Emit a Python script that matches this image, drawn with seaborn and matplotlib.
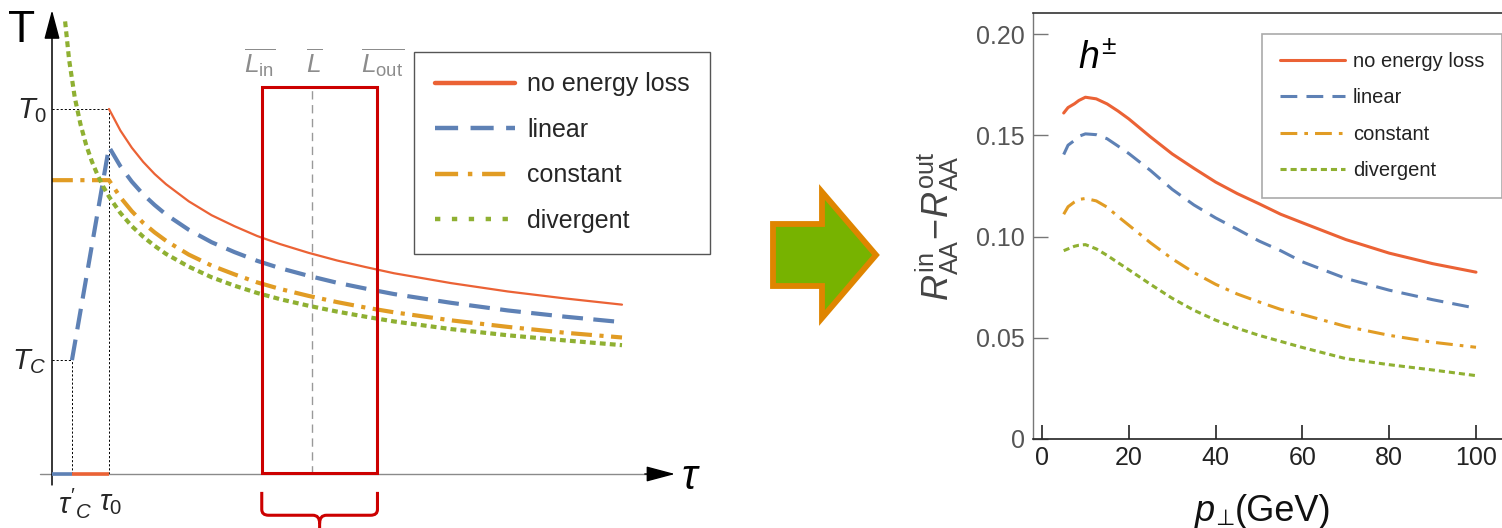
import numpy as np
import pandas as pd
import seaborn as sns
import matplotlib
matplotlib.use("Agg")
import matplotlib.pyplot as plt
from matplotlib.lines import Line2D
from matplotlib.patches import Rectangle, Polygon, PathPatch
from matplotlib.path import Path

# ---------------- data ----------------
series_names = ["no energy loss", "linear", "constant", "divergent"]

# left panel: schematic temperature profiles T(tau) (units: tau0 = 1, T0 = 1)
tau_decay = [1.0, 1.2, 1.4, 1.6, 1.8, 2.0, 2.4, 2.8, 3.2, 3.6, 4.0, 4.5, 5.0, 5.5, 6.0, 7.0, 8.0, 9.0, 10.0]
T_noloss = [1.000, 0.941, 0.894, 0.855, 0.822, 0.794, 0.747, 0.709, 0.679, 0.652,
            0.630, 0.606, 0.585, 0.567, 0.550, 0.523, 0.500, 0.481, 0.464]
tau_linear = [0.35] + tau_decay
T_linear = [0.312, 0.896, 0.843, 0.801, 0.766, 0.737, 0.711, 0.669, 0.635, 0.608, 0.584,
            0.564, 0.543, 0.524, 0.508, 0.493, 0.469, 0.448, 0.431, 0.416]
tau_const = [0.0] + tau_decay
T_const = [0.805, 0.805, 0.758, 0.720, 0.688, 0.662, 0.639, 0.601, 0.571, 0.547, 0.525,
           0.507, 0.488, 0.471, 0.456, 0.443, 0.421, 0.403, 0.387, 0.374]
tau_div = [0.23, 0.3, 0.4, 0.5, 0.6, 0.7, 0.8, 0.9] + tau_decay
T_div = [1.240, 1.135, 1.031, 0.958, 0.901, 0.856, 0.819, 0.787,
         0.760, 0.715, 0.679, 0.650, 0.625, 0.603, 0.568, 0.539, 0.516, 0.496,
         0.479, 0.461, 0.445, 0.431, 0.418, 0.397, 0.380, 0.366, 0.353]

tau_C_prime, tau_0 = 0.35, 1.0
T_0, T_C = 1.0, 0.312
L_in, L_mean, L_out = 3.68, 4.56, 5.71
box_top = 1.06

# right panel: R_AA^in - R_AA^out vs p_perp
pt = [5, 6, 7.5, 8.5, 10, 12.5, 15, 17.5, 20, 25, 30, 35, 40, 45, 50, 55, 60, 70, 80, 90, 100]
r_noloss = [0.1610, 0.1637, 0.1656, 0.1672, 0.1688, 0.1680, 0.1655, 0.1620, 0.1581, 0.1492,
            0.1408, 0.1337, 0.1269, 0.1212, 0.1162, 0.1110, 0.1068, 0.0985, 0.0918, 0.0866, 0.0824]
r_linear = [0.1405, 0.1451, 0.1475, 0.1495, 0.1507, 0.1503, 0.1483, 0.1447, 0.1410, 0.1326,
            0.1233, 0.1156, 0.1092, 0.1036, 0.0978, 0.0930, 0.0875, 0.0793, 0.0735, 0.0688, 0.0646]
r_const = [0.1110, 0.1147, 0.1171, 0.1183, 0.1188, 0.1176, 0.1145, 0.1099, 0.1056, 0.0969,
           0.0890, 0.0822, 0.0764, 0.0716, 0.0677, 0.0640, 0.0615, 0.0556, 0.0512, 0.0478, 0.0453]
r_div = [0.0930, 0.0939, 0.0952, 0.0957, 0.0960, 0.0939, 0.0907, 0.0871, 0.0836, 0.0764,
         0.0695, 0.0636, 0.0587, 0.0547, 0.0512, 0.0482, 0.0452, 0.0397, 0.0367, 0.0341, 0.0313]

x_ticks = [0, 20, 40, 60, 80, 100]
y_ticks = [0, 0.05, 0.10, 0.15, 0.20]
y_tick_labels = ["0", "0.05", "0.10", "0.15", "0.20"]

# ---------------- style ----------------
sns.set_theme(style="white")
plt.rcParams["font.family"] = ["Liberation Sans", "DejaVu Sans"]
plt.rcParams["mathtext.fontset"] = "custom"
plt.rcParams["mathtext.rm"] = "Liberation Sans"
plt.rcParams["mathtext.it"] = "Liberation Sans:italic"
plt.rcParams["mathtext.bf"] = "Liberation Sans:bold"

C_RED = "#EB6235"
C_BLUE = "#5E81B5"
C_ORANGE = "#E19C24"
C_GREEN = "#8FB032"
colors = [C_RED, C_BLUE, C_ORANGE, C_GREEN]

W, H = 1502, 528
fig = plt.figure(figsize=(W / 100, H / 100), dpi=100)
fig.patch.set_facecolor("white")

# ---------------- left schematic ----------------
axL = fig.add_axes([0, 0, 740 / W, 1])
axL.set_xlim(-52 / 57, (740 - 52) / 57)
axL.set_ylim(-(528 - 474) / 365, 474 / 365)
axL.axis("off")

left_dashes = [None, (5, 2.5), (5, 1.8, 1, 1.8), (1.4, 1.0)]
left_lw = [1.6, 3.0, 3.0, 3.0]
left_data = [(tau_decay, T_noloss), (tau_linear, T_linear), (tau_const, T_const), (tau_div, T_div)]
for (tx, ty), c, d, lw in zip(left_data, colors, left_dashes, left_lw):
    sns.lineplot(x=tx, y=ty, ax=axL, color=c, lw=lw, estimator=None, sort=False, legend=False)
    ln = axL.lines[-1]
    if d is not None:
        ln.set_dashes(d)
    ln.set_dash_capstyle("butt")

# coloured segments on the tau axis
axL.plot([0, tau_C_prime], [0, 0], color=C_BLUE, lw=2.6, zorder=4, solid_capstyle="butt")
axL.plot([tau_C_prime, tau_0], [0, 0], color=C_RED, lw=2.6, zorder=4, solid_capstyle="butt")

# helper dashed lines
hk = dict(color="black", lw=0.7, dashes=(2.2, 2.0), zorder=1)
axL.plot([0, tau_0], [T_0, T_0], **hk)
axL.plot([tau_0, tau_0], [0, T_0], **hk)
axL.plot([0, tau_C_prime], [T_C, T_C], **hk)
axL.plot([tau_C_prime, tau_C_prime], [0, T_C], **hk)

# path-length markers
for xv in [L_in, L_mean, L_out]:
    axL.plot([xv, xv], [0, box_top], color="#999999", lw=1.0, dashes=(6, 4), zorder=1)
axL.add_patch(Rectangle((L_in, 0.004), L_out - L_in, box_top - 0.004, fill=False,
                        edgecolor="#CC0000", lw=2.2, zorder=5))
axL.text(L_in - 0.03, 1.126, r"$\overline{L_{\rm in}}$", color="#8c8c8c", fontsize=19, ha="center", va="center")
axL.text(L_mean + 0.05, 1.126, r"$\overline{L}$", color="#8c8c8c", fontsize=19, ha="center", va="center")
axL.text(L_out + 0.08, 1.126, r"$\overline{L_{\rm out}}$", color="#8c8c8c", fontsize=19, ha="center", va="center")

# brace under the box
mid = 0.5 * (L_in + L_out)
verts = [(L_in, -0.049), (L_in, -0.097), (L_in, -0.113), (L_in + 0.12, -0.113),
         (mid - 0.12, -0.113), (mid, -0.113), (mid, -0.135), (mid, -0.16),
         (L_out, -0.049), (L_out, -0.097), (L_out, -0.113), (L_out - 0.12, -0.113),
         (mid + 0.12, -0.113), (mid, -0.113), (mid, -0.135)]
codes = [Path.MOVETO, Path.LINETO, Path.CURVE3, Path.CURVE3,
         Path.LINETO, Path.CURVE3, Path.CURVE3, Path.LINETO,
         Path.MOVETO, Path.LINETO, Path.CURVE3, Path.CURVE3,
         Path.LINETO, Path.CURVE3, Path.CURVE3]
axL.add_patch(PathPatch(Path(verts, codes), fill=False, edgecolor="#CC0000", lw=2.2,
                        clip_on=False, capstyle="butt"))

# axes with arrows
axL.annotate("", xy=(0, 1.271), xytext=(0, -0.03),
             arrowprops=dict(arrowstyle="-|>,head_length=0.6,head_width=0.16", color="black",
                             lw=1.1, mutation_scale=30, shrinkA=0, shrinkB=0))
axL.plot([-0.21, 10.6], [0, 0], color="#8a8a8a", lw=1.0, zorder=2)
axL.annotate("", xy=(10.93, 0), xytext=(10.4, 0),
             arrowprops=dict(arrowstyle="-|>,head_length=0.6,head_width=0.16", color="black",
                             lw=1.0, mutation_scale=30, shrinkA=0, shrinkB=0))
axL.text(-0.526, 1.215, "T", fontsize=32, ha="center", va="center", color="black")
axL.text(11.2, -0.012, r"$\tau$", fontsize=30, ha="center", va="center", color="black")
axL.text(-0.35, 0.995, r"$T_0$", fontsize=21, ha="center", va="center")
axL.text(-0.39, T_C - 0.005, r"$T_C$", fontsize=21, ha="center", va="center")
axL.text(0.40, -0.08, r"$\tau'_C$", fontsize=21, ha="center", va="center")
axL.text(1.03, -0.08, r"$\tau_0$", fontsize=21, ha="center", va="center")

handlesL = [Line2D([], [], color=C_RED, lw=3.2),
            Line2D([], [], color=C_BLUE, lw=3.2, dashes=(5.2, 2.8)),
            Line2D([], [], color=C_ORANGE, lw=3.2, dashes=(5.2, 2.2, 1.0, 2.2)),
            Line2D([], [], color=C_GREEN, lw=3.2, dashes=(1.2, 2.6))]
legL = axL.legend(handlesL, series_names, loc="upper left",
                  bbox_to_anchor=(414 / W, 1 - 52 / H), bbox_transform=fig.transFigure,
                  borderaxespad=0, fontsize=18, handlelength=3.2, handletextpad=0.5,
                  labelspacing=0.86, borderpad=0.82, fancybox=False, framealpha=1,
                  edgecolor="#555555")
legL.get_frame().set_linewidth(1.0)

# ---------------- middle arrow ----------------
arrow_px = [(773, 224), (822, 224), (822, 192), (876, 255), (822, 318), (822, 286), (773, 286)]
fig.patches.append(Polygon([(x / W, 1 - y / H) for x, y in arrow_px], closed=True,
                           transform=fig.transFigure, facecolor="#77B300",
                           edgecolor="#DF8500", lw=4.2, joinstyle="miter", figure=fig))

# ---------------- right panel ----------------
axR = fig.add_axes([1033 / W, 1 - 439 / H, (W - 1033) / W, (439 - 13) / H])
df = pd.DataFrame({"pt": pt * 4,
                   "val": r_noloss + r_linear + r_const + r_div,
                   "model": sum([[n] * len(pt) for n in series_names], [])})
right_dashes = [None, (5.5, 3.0), (5.5, 2.3, 1.2, 2.3), (2.0, 1.3)]
for name, c, d in zip(series_names, colors, right_dashes):
    sub = df[df["model"] == name]
    sns.lineplot(data=sub, x="pt", y="val", ax=axR, color=c, lw=2.2, estimator=None,
                 sort=False, label=name)
    ln = axR.lines[-1]
    if d is not None:
        ln.set_dashes(d)
    ln.set_dash_capstyle("butt")
    ln.set_solid_joinstyle("round")

axR.set_xlim(-9 / 4.34, (W - 1042) / 4.34)
axR.set_ylim(0, 0.2 + 21 / 101 * 0.05)
axR.set_xticks(x_ticks)
axR.set_yticks(y_ticks, y_tick_labels)
axR.tick_params(axis="y", direction="in", length=10.5, width=1.0, color="#777777",
                labelcolor="#555555", labelsize=18, pad=6, left=True)
axR.tick_params(axis="x", direction="in", length=10, width=1.2, color="#222222",
                labelcolor="#222222", labelsize=18, pad=5, bottom=True)
axR.spines["left"].set_color("#777777")
axR.spines["left"].set_linewidth(1.0)
axR.spines["top"].set_color("#333333")
axR.spines["top"].set_linewidth(1.2)
axR.spines["bottom"].set_color("#222222")
axR.spines["bottom"].set_linewidth(1.2)
axR.spines["right"].set_visible(False)

# x label built from adjacent pieces: p, subscript perp sign, (GeV)
axR.set_xlabel("")
def ax_x(px):
    return (px - 1033) / (W - 1033)
def ax_y(py):
    return (439 - py) / 426
axR.text(ax_x(1215), ax_y(521), "p", transform=axR.transAxes, fontsize=26, style="italic",
         color="#111111", ha="right", va="baseline", clip_on=False)
axR.text(ax_x(1234), ax_y(525), "\u22a5", transform=axR.transAxes, fontsize=16,
         family=["DejaVu Sans"], color="#111111", ha="right", va="baseline", clip_on=False)
axR.text(ax_x(1235), ax_y(521), "(GeV)", transform=axR.transAxes, fontsize=26,
         color="#111111", ha="left", va="baseline", clip_on=False)

axR.set_ylabel(r"$R_{\rm AA}^{\rm in}\!-\!R_{\rm AA}^{\rm out}$", fontsize=26,
               color="#444444", va="center")
axR.yaxis.set_label_coords((937 - 1033) / (W - 1033), (439 - 226) / 426)
axR.text(12.9, 0.1876, r"$h^{\pm}$", fontsize=27, ha="center", va="center", color="black")

legR = axR.legend(loc="upper left", bbox_to_anchor=(1262 / W, 1 - 34 / H),
                  bbox_transform=fig.transFigure, borderaxespad=0, fontsize=14.5,
                  handlelength=3.2, handletextpad=0.4, labelspacing=0.86, borderpad=0.9,
                  fancybox=False, framealpha=1, edgecolor="#aaaaaa")
legR.get_frame().set_linewidth(1.2)
for t in legR.get_texts():
    t.set_color("#222222")

fig.savefig("out.png", dpi=100, facecolor="white")
